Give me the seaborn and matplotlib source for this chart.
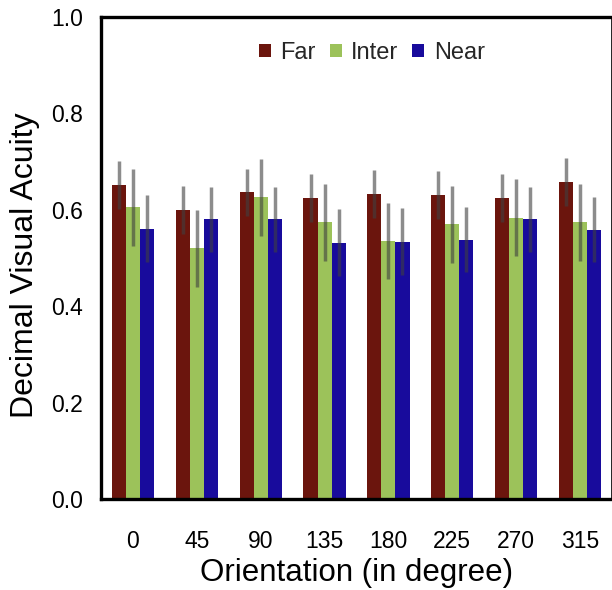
import matplotlib
matplotlib.use("Agg")
import matplotlib.pyplot as plt
import seaborn as sns
import pandas as pd
import numpy as np

orientations = ["0", "45", "90", "135", "180", "225", "270", "315"]
far_vals   = [0.651, 0.599, 0.636, 0.624, 0.632, 0.630, 0.624, 0.657]
inter_vals = [0.605, 0.520, 0.626, 0.574, 0.536, 0.570, 0.584, 0.574]
near_vals  = [0.561, 0.580, 0.580, 0.532, 0.534, 0.538, 0.580, 0.559]
far_err    = [0.050, 0.050, 0.048, 0.050, 0.050, 0.050, 0.050, 0.050]
inter_err  = [0.080, 0.080, 0.080, 0.080, 0.079, 0.080, 0.080, 0.080]
near_err   = [0.070, 0.068, 0.068, 0.070, 0.070, 0.068, 0.068, 0.068]
series = ["Far", "Inter", "Near"]
colors = ["#6B150D", "#9CC25A", "#180B9C"]

sns.set_theme(style="white")
plt.rcParams['font.family'] = ['Liberation Sans', 'DejaVu Sans']

rows = []
for name, vals in zip(series, [far_vals, inter_vals, near_vals]):
    for o, v in zip(orientations, vals):
        rows.append({"Orientation": o, "Series": name, "Value": v})
df = pd.DataFrame(rows)

fig = plt.figure(figsize=(6.12, 5.90), dpi=100)
ax = fig.add_axes([101/612, 91/590, 511/612, 482/590])

sns.barplot(data=df, x="Orientation", y="Value", hue="Series",
            order=orientations, hue_order=series, palette=colors,
            width=0.66, errorbar=None, saturation=1, ax=ax, edgecolor="none")

errs = [far_err, inter_err, near_err]
vals_all = [far_vals, inter_vals, near_vals]
bar_containers = list(ax.containers)
for si, cont in enumerate(bar_containers):
    xs = [p.get_x() + p.get_width() / 2 for p in cont.patches]
    ax.errorbar(xs, vals_all[si], yerr=errs[si], fmt="none",
                ecolor="#404040", alpha=0.6, elinewidth=2.5, capsize=0, zorder=5)

ax.set_xlim(-0.5, 7.5)
ax.set_ylim(0, 1.0)
ax.set_yticks([0, 0.2, 0.4, 0.6, 0.8, 1.0])
ax.set_yticklabels(["0.0", "0.2", "0.4", "0.6", "0.8", "1.0"])
ax.tick_params(axis="both", labelsize=16.5, length=0, colors="black")
ax.tick_params(axis="x", pad=22)
ax.tick_params(axis="y", pad=13)
ax.set_xlabel("Orientation (in degree)", fontsize=22.5, labelpad=4, color="black")
ax.set_ylabel("Decimal Visual Acuity", fontsize=23, color="black")
ax.yaxis.set_label_coords(-0.119, 0.485)

for s in ["top", "left", "bottom"]:
    ax.spines[s].set_linewidth(2.4)
    ax.spines[s].set_color("black")
ax.spines["right"].set_linewidth(1.2)
ax.spines["right"].set_color("black")

leg = ax.legend(loc="center", bbox_to_anchor=(0.53, 0.925), ncol=3,
                frameon=False, fontsize=17, handlelength=0.5, handleheight=0.5,
                handletextpad=0.4, columnspacing=0.6, borderpad=0.0)

fig.savefig("out.png", dpi=100)
